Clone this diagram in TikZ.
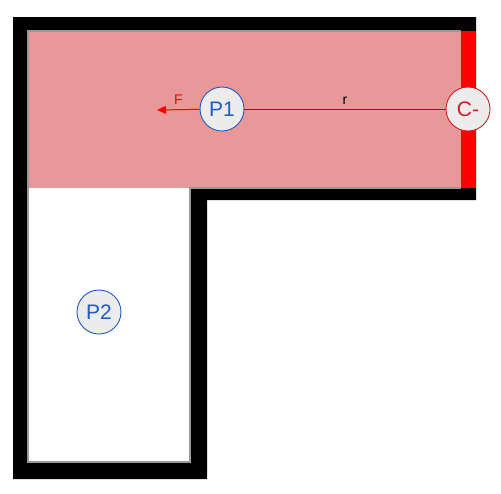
\documentclass[tikz,border=0pt]{standalone}
\usepackage{fontspec}
\setmainfont{Liberation Sans}
\usetikzlibrary{arrows.meta}
\definecolor{roompink}{RGB}{232,152,152}
\definecolor{pblue}{RGB}{30,90,200}
\definecolor{cred}{RGB}{210,30,30}
\definecolor{nodegray}{RGB}{236,236,236}
\definecolor{linegray}{RGB}{60,60,60}
\pgfdeclarelayer{bg}
\pgfsetlayers{bg,main}
\tikzset{
  wall/.style={fill=black},
  blurline/.style={draw=black!40, line width=1.2pt},
  pnode/.style={circle, draw=pblue, fill=nodegray, line width=0.9pt, minimum size=44pt, inner sep=0pt, text=pblue, font=\fontsize{21}{21}\selectfont},
  cnode/.style={circle, draw=cred, fill=nodegray, line width=0.9pt, minimum size=44pt, inner sep=0pt, text=cred, font=\fontsize{21}{21}\selectfont},
  rline/.style={draw=linegray, line width=1pt},
  force/.style={draw=red, line width=1pt, -{Triangle[length=9pt,width=8pt]}},
  lab/.style={above=1pt, font=\fontsize{14}{14}\selectfont},
}
\begin{document}
\begin{tikzpicture}[x=1pt,y=-1pt]
\useasboundingbox (0,0) rectangle (501,493);
% nodes
\node[pnode] (P1) at (222,109) {P1};
\node[cnode] (C) at (468,109) {C-};
\node[pnode] (P2) at (99,312) {P2};
\coordinate (Fend) at (157,110);
\begin{pgfonlayer}{bg}
\fill[white] (0,0) rectangle (501,493);
% walls (outer L)
\fill[wall] (13,17) -- (476,17) -- (476,200) -- (207,200) -- (207,479) -- (13,479) -- cycle;
% red wall segment
\fill[red] (461,31) rectangle (476,188);
% interior lower room
\fill[white] (28,188) rectangle (190,462);
% pink room
\fill[roompink] (28,31) rectangle (461,188);
% soft edges
\draw[blurline] (461,31) -- (28,31) -- (28,462) -- (190,462) -- (190,188) -- (461,188);
% connectors
\draw[rline] (P1.center) -- (C.center) node[midway, lab, text=black] {r};
\end{pgfonlayer}
\draw[force] (P1) -- (Fend) node[midway, lab, text=red] {F};
\end{tikzpicture}
\end{document}
